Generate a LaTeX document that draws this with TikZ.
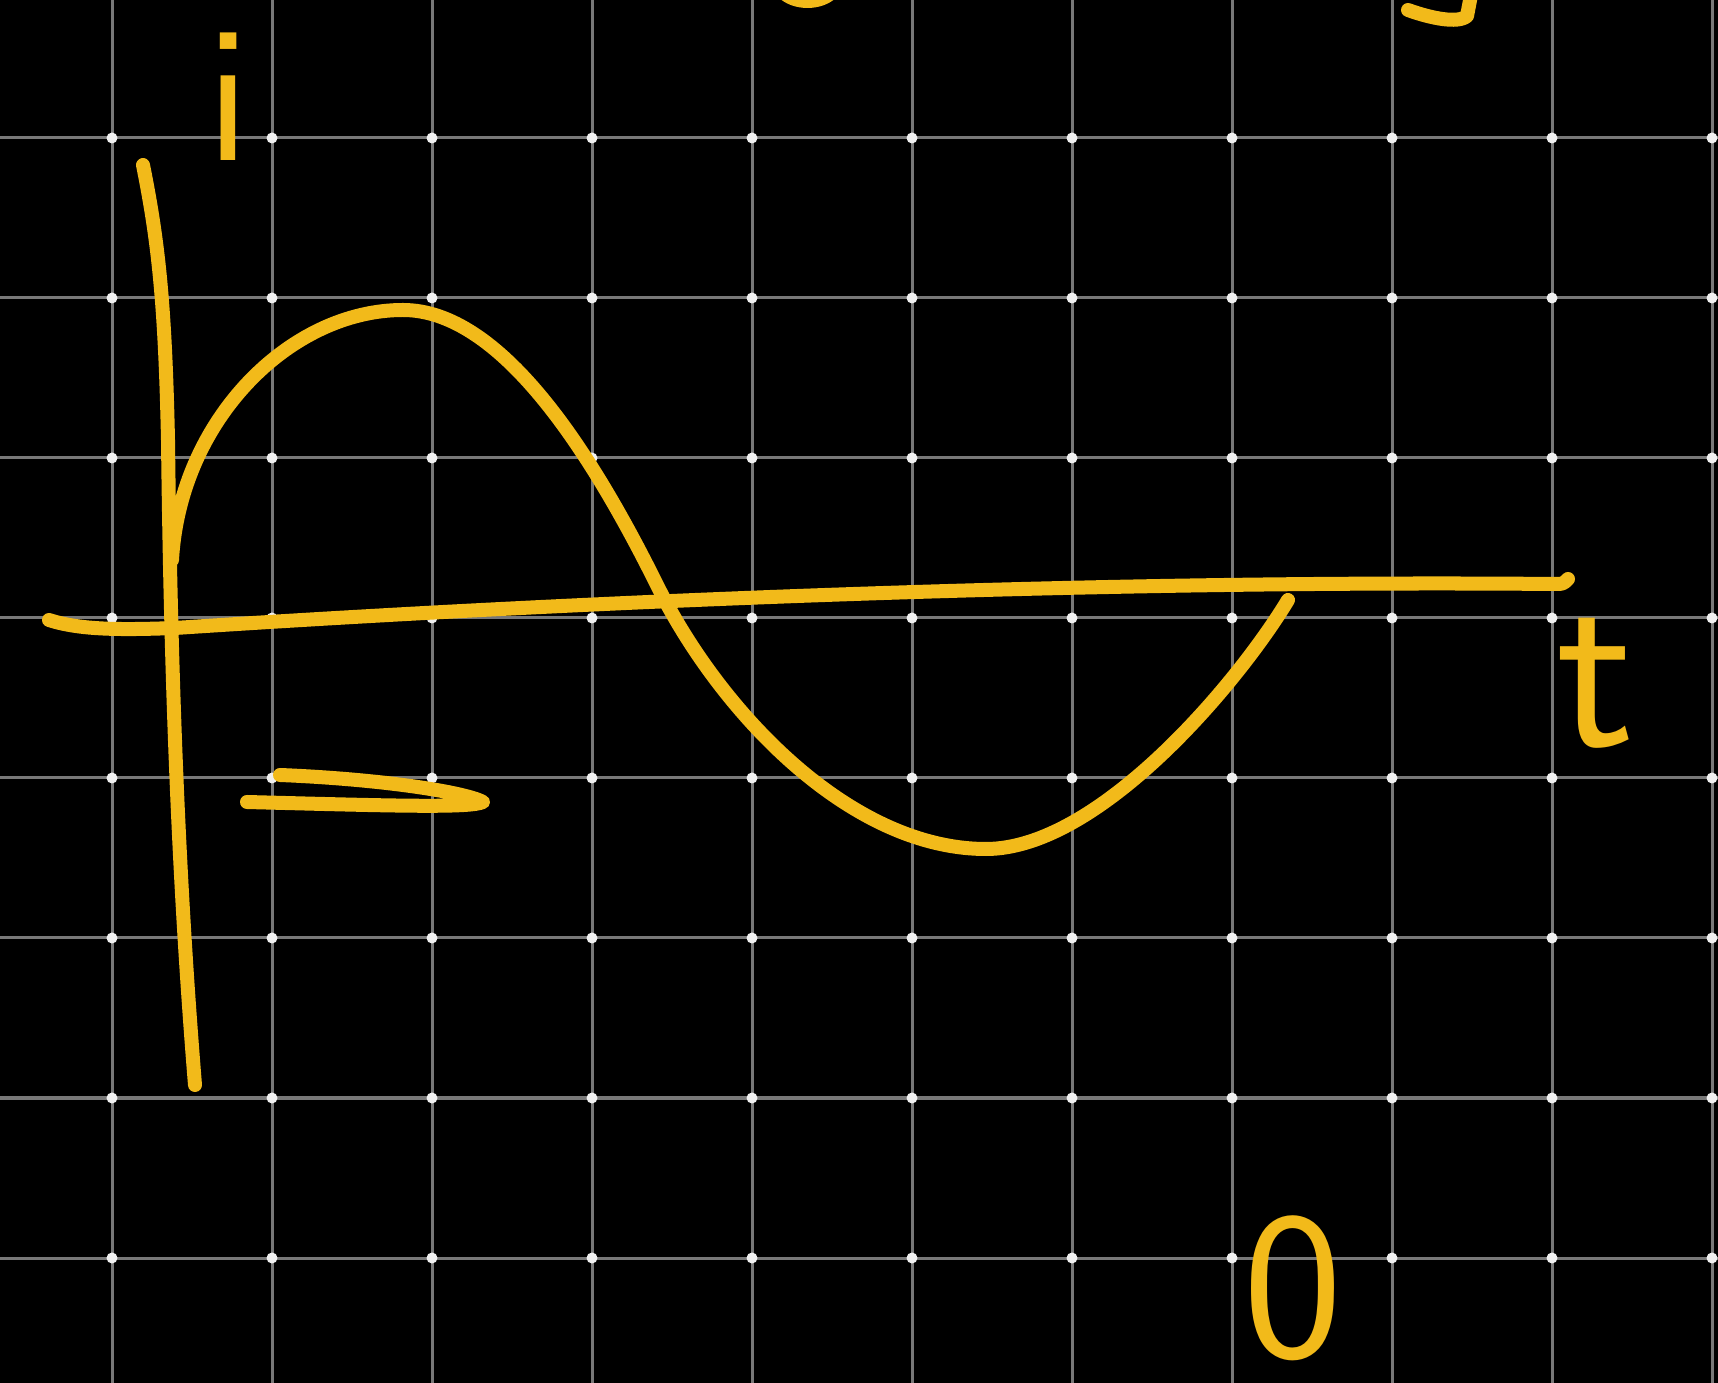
\documentclass[tikz,border=0pt]{standalone}
\usepackage{fontspec}
\usepackage{tikz}
\definecolor{chalk}{RGB}{242,186,26}
\definecolor{gridgray}{RGB}{120,120,120}

\begin{document}
\begin{tikzpicture}[x=0.01cm, y=-0.01cm,
    gridline/.style={draw=gridgray, line width=0.03cm},
    griddot/.style={circle, fill=white!88!gray, inner sep=0pt, minimum size=0.11cm},
    chalkline/.style={draw=chalk, line width=0.14cm, line cap=round, line join=round},
    handtext/.style={text=chalk, inner sep=0pt, font=\sffamily\fontsize{56}{60}\selectfont}
]
\fill[black] (0,0) rectangle (1718,1383);
\useasboundingbox (0,0) rectangle (1718,1383);

% grid
\foreach \gx in {112,272,...,1712}
  \draw[gridline] (\gx,0) -- (\gx,1383);
\foreach \gy in {138,298,...,1258}
  \draw[gridline] (0,\gy) -- (1718,\gy);
\foreach \gx in {112,272,...,1712}
  \foreach \gy in {138,298,...,1258}
    \node[griddot] (d-\gx-\gy) at (\gx,\gy) {};

% axes
\draw[chalkline] (143,165) .. controls (158,240) and (165,300) .. (168,440)
  .. controls (171,700) and (180,900) .. (195,1085);
\draw[chalkline] (49,620) .. controls (80,630) and (120,630) .. (175,628)
  .. controls (600,600) and (1100,580) .. (1555,584) .. controls (1563,584) .. (1568,579);

% the wave
\draw[chalkline] (172,560) .. controls (180,420) and (290,310) .. (403,310)
  .. controls (500,310) and (590,450) .. (657,585)
  .. controls (720,712) and (850,849) .. (986,849)
  .. controls (1100,849) and (1240,680) .. (1288,600);

% dash under the axis
\draw[chalkline] (280,775) .. controls (380,779) and (465,792) .. (483,802)
  .. controls (470,808) and (400,806) .. (247,802);

% cut-off strokes at the top edge
\draw[chalkline] (783,-8) .. controls (795,4) and (820,4) .. (832,-8);
\draw[chalkline] (1408,10) .. controls (1430,18) and (1458,24) .. (1467,16) -- (1471,-5);

% labels
\node[handtext] (ilabel) at (228,97) {i};
\node[handtext, font=\sffamily\fontsize{66}{70}\selectfont] (tlabel) at (1596,683) {t};
\node[handtext, font=\sffamily\fontsize{60}{66}\selectfont] (zero) at (1293,1288) {0};
\end{tikzpicture}
\end{document}
